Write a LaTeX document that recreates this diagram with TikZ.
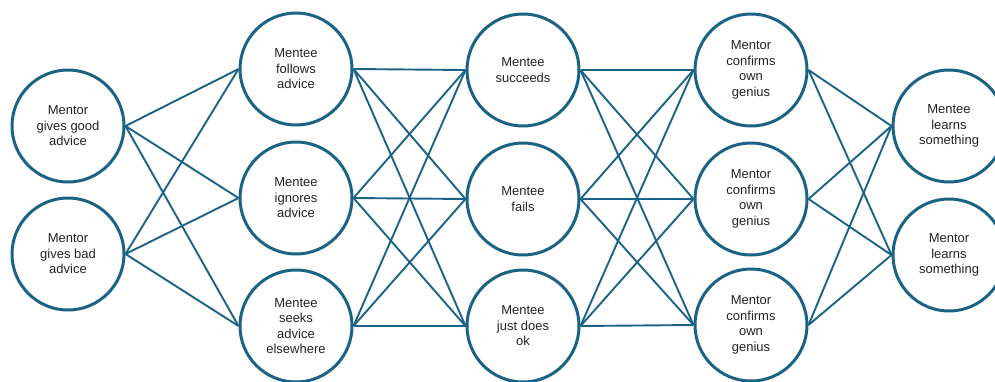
\documentclass[tikz,border=0pt]{standalone}
\usepackage{fontspec}
\setmainfont{Liberation Sans}
\usepackage{tikz}
\usetikzlibrary{positioning}
\definecolor{ring}{HTML}{1A6385}
\definecolor{ink}{HTML}{222222}

\tikzset{
 stage/.style={circle,draw=ring,line width=3pt,minimum size=112pt,inner sep=0pt,
  align=center,text=ink,font=\fontsize{13}{15.5}\selectfont},
 link/.style={draw=ring,line width=1.9pt}
}

\begin{document}
\begin{tikzpicture}[x=1pt,y=-1pt]
\useasboundingbox (0,0) rectangle (995,381);
% columns at x = 68, 296, 523, 751, 949
\foreach \nm/\xx/\yy/\txt in {
 a1/68/126/{Mentor\\gives good\\advice},
 a2/68/254/{Mentor\\gives bad\\advice},
 b1/296/69/{Mentee\\follows\\advice},
 b2/296/198/{Mentee\\ignores\\advice},
 b3/296/326/{Mentee\\seeks\\advice\\elsewhere},
 c1/523/70/{Mentee\\succeeds},
 c2/523/199/{Mentee\\fails},
 c3/523/326/{Mentee\\just does\\ok},
 d1/751/70/{Mentor\\confirms\\own\\genius},
 d2/751/199/{Mentor\\confirms\\own\\genius},
 d3/751/325/{Mentor\\confirms\\own\\genius},
 e1/949/126/{Mentee\\learns\\something},
 e2/949/255/{Mentor\\learns\\something}} {
 \node[stage] (\nm) at (\xx,\yy) {\txt};
}
% every stage joins every stage of the next column
\foreach \from in {a1,a2} \foreach \to in {b1,b2,b3}
 \draw[link] (\from.east) -- (\to.west);
\foreach \from in {b1,b2,b3} \foreach \to in {c1,c2,c3}
 \draw[link] (\from.east) -- (\to.west);
\foreach \from in {c1,c2,c3} \foreach \to in {d1,d2,d3}
 \draw[link] (\from.east) -- (\to.west);
\foreach \from in {d1,d2,d3} \foreach \to in {e1,e2}
 \draw[link] (\from.east) -- (\to.west);
\end{tikzpicture}
\end{document}
